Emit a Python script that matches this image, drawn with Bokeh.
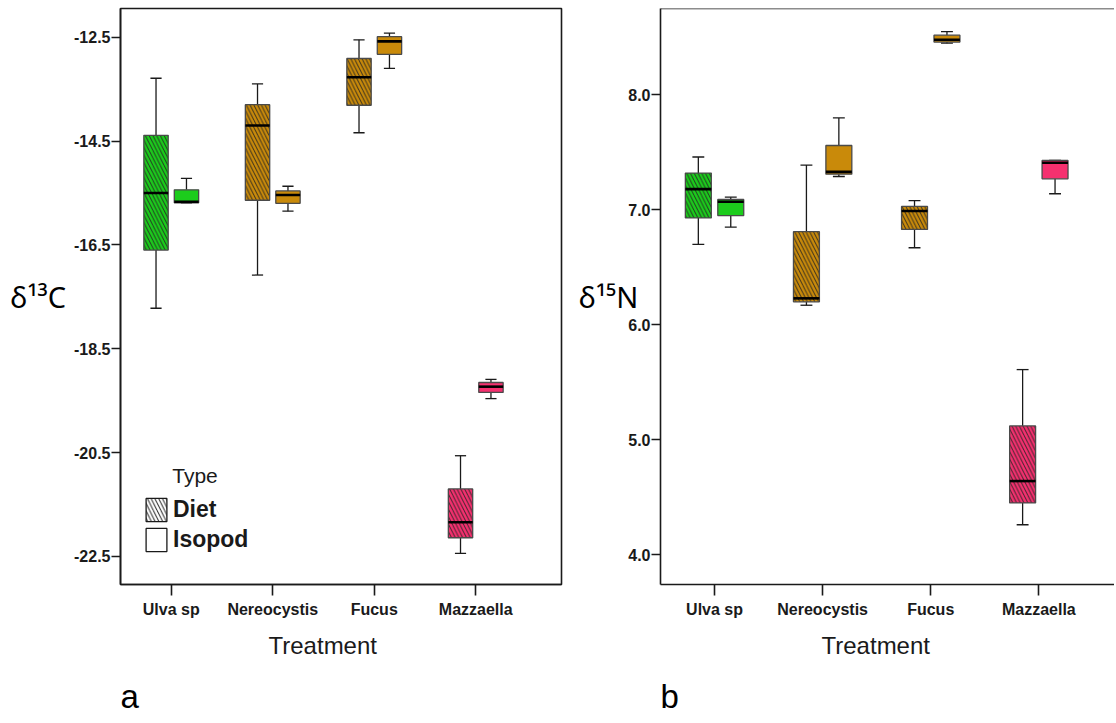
import numpy as np
from bokeh.plotting import figure
from bokeh.models import (FixedTicker, Label, Legend, LegendItem, Span, Range1d,
                          NumeralTickFormatter, Title)
from bokeh.layouts import row
from bokeh.embed import file_html
from bokeh.resources import INLINE

treatments = ["Ulva sp", "Nereocystis", "Fucus", "Mazzaella"]
box_colors = ["#1ccc1c", "#c98a0a", "#c98a0a", "#f5306f"]

# d13C boxplot stats: [min, q1, median, q3, max] per treatment
c13_diet_min = [-17.72, -17.08, -14.34, -22.44]
c13_diet_q1 = [-16.60, -15.64, -13.81, -22.14]
c13_diet_med = [-15.50, -14.20, -13.27, -21.84]
c13_diet_q3 = [-14.39, -13.80, -12.91, -21.20]
c13_diet_max = [-13.29, -13.40, -12.55, -20.56]

c13_iso_min = [-15.69, -15.85, -13.10, -19.46]
c13_iso_q1 = [-15.69, -15.70, -12.83, -19.34]
c13_iso_med = [-15.67, -15.54, -12.58, -19.23]
c13_iso_q3 = [-15.44, -15.46, -12.49, -19.15]
c13_iso_max = [-15.22, -15.37, -12.42, -19.09]

# d15N boxplot stats
n15_diet_min = [6.70, 6.17, 6.67, 4.26]
n15_diet_q1 = [6.93, 6.20, 6.83, 4.45]
n15_diet_med = [7.18, 6.23, 6.99, 4.64]
n15_diet_q3 = [7.32, 6.81, 7.03, 5.12]
n15_diet_max = [7.46, 7.39, 7.08, 5.61]

n15_iso_min = [6.85, 7.29, 8.45, 7.14]
n15_iso_q1 = [6.95, 7.31, 8.46, 7.27]
n15_iso_med = [7.07, 7.33, 8.48, 7.41]
n15_iso_q3 = [7.09, 7.56, 8.52, 7.43]
n15_iso_max = [7.11, 7.80, 8.55, 7.43]

c13_ticks = [-22.5, -20.5, -18.5, -16.5, -14.5, -12.5]
n15_ticks = [4.0, 5.0, 6.0, 7.0, 8.0]

TICK_FONT = "Liberation Sans"
DARK = "#1a1a1a"
BOX_LINE = "#4a4a4a"
OFF = 0.15
BW = 0.24
CAP = 0.055
H = 722


def add_boxes(p, pos, mn, q1, med, q3, mx, hatched):
    pos = np.asarray(pos, dtype=float)
    wl = dict(line_color=DARK, line_width=1.3)
    p.segment(x0=pos, y0=q3, x1=pos, y1=mx, **wl)
    p.segment(x0=pos, y0=q1, x1=pos, y1=mn, **wl)
    p.segment(x0=pos - CAP, y0=mx, x1=pos + CAP, y1=mx, **wl)
    p.segment(x0=pos - CAP, y0=mn, x1=pos + CAP, y1=mn, **wl)
    kw = dict(x=pos, width=BW, top=q3, bottom=q1, fill_color=box_colors,
              line_color=BOX_LINE, line_width=1.3)
    if hatched:
        kw.update(hatch_pattern="\\", hatch_color="#222222", hatch_weight=1.0,
                  hatch_scale=7.5, hatch_alpha=0.85)
    p.vbar(**kw)
    p.segment(x0=pos - BW / 2, y0=med, x1=pos + BW / 2, y1=med,
              line_color="black", line_width=2.6)


def make_panel(width, border_left, border_right, border_bottom, x_end, y_start, y_end,
               ticks, stats_diet, stats_iso, outline, ylabel, ylabel_standoff,
               title_offset, panel_letter):
    p = figure(width=width, height=H, output_backend="svg", toolbar_location=None,
               x_range=Range1d(0.5, x_end), y_range=Range1d(y_start, y_end),
               min_border_left=border_left, min_border_right=border_right,
               min_border_top=8, min_border_bottom=border_bottom)
    p.xgrid.visible = False
    p.ygrid.visible = False
    p.background_fill_color = "white"
    p.border_fill_color = "white"
    p.outline_line_color = DARK if outline else None
    p.outline_line_width = 1.6

    base = np.arange(1, len(treatments) + 1)
    p.xaxis.ticker = FixedTicker(ticks=list(base))
    p.xaxis.major_label_overrides = {int(b): t for b, t in zip(base, treatments)}
    p.xaxis.major_label_text_font = TICK_FONT
    p.xaxis.major_label_text_font_style = "bold"
    p.xaxis.major_label_text_font_size = "16px"
    p.xaxis.major_label_text_color = DARK
    p.xaxis.major_tick_out = 11
    p.xaxis.major_tick_in = 0
    p.xaxis.major_label_standoff = 5
    p.xaxis.minor_tick_line_color = None

    p.yaxis.ticker = FixedTicker(ticks=ticks)
    p.yaxis.formatter = NumeralTickFormatter(format="0.0")
    p.yaxis.major_label_text_font = TICK_FONT
    p.yaxis.major_label_text_font_style = "bold"
    p.yaxis.major_label_text_font_size = "16px"
    p.yaxis.major_label_text_color = DARK
    p.yaxis.major_tick_out = 9
    p.yaxis.major_tick_in = 0
    p.yaxis.major_label_standoff = 1
    p.yaxis.minor_tick_line_color = None
    p.yaxis.axis_label = ylabel
    p.yaxis.axis_label_orientation = "horizontal"
    p.yaxis.axis_label_text_font = "Noto Sans"
    p.yaxis.axis_label_text_font_style = "normal"
    p.yaxis.axis_label_text_font_size = "29px"
    p.yaxis.axis_label_text_color = "black"
    p.yaxis.axis_label_standoff = ylabel_standoff

    for ax in (p.xaxis, p.yaxis):
        ax.axis_line_color = DARK
        ax.axis_line_width = 1.6
        ax.major_tick_line_color = DARK
        ax.major_tick_line_width = 1.6

    add_boxes(p, base - OFF, *stats_diet, hatched=True)
    add_boxes(p, base + OFF, *stats_iso, hatched=False)

    if not outline:
        p.add_layout(Span(location=y_end, dimension="width", line_color=DARK,
                          line_width=1.6))

    p.add_layout(Title(text="Treatment", align="left", offset=title_offset,
                       text_font="Liberation Sans", text_font_style="normal",
                       text_font_size="24px", text_color=DARK, standoff=19), "below")
    p.add_layout(Title(text=panel_letter, align="left", offset=0,
                       text_font="Liberation Sans", text_font_style="normal",
                       text_font_size="33px", text_color="black", standoff=15), "below")
    return p, base


# ---- panel a ----
pa, base = make_panel(575, 120, 14, 138, 4.845, -23.04, -11.947, c13_ticks,
                      (c13_diet_min, c13_diet_q1, c13_diet_med, c13_diet_q3, c13_diet_max),
                      (c13_iso_min, c13_iso_q1, c13_iso_med, c13_iso_q3, c13_iso_max),
                      outline=True, ylabel="δ¹³C", ylabel_standoff=5,
                      title_offset=148, panel_letter="a")

pa.add_layout(Label(x=1.01, y=-21.17, text="Type", text_font="Liberation Sans",
                    text_font_size="21px", text_color=DARK))

r_diet = pa.vbar(x=[np.nan], top=[np.nan], bottom=[np.nan], width=BW,
                 fill_color="white", line_color=DARK, line_width=1.3,
                 hatch_pattern="\\", hatch_color="#222222", hatch_weight=1.0,
                 hatch_scale=7.5)
r_iso = pa.vbar(x=[np.nan], top=[np.nan], bottom=[np.nan], width=BW,
                fill_color="white", line_color=DARK, line_width=1.3)
legend = Legend(items=[LegendItem(label="Diet", renderers=[r_diet], index=0),
                       LegendItem(label="Isopod", renderers=[r_iso], index=0)],
                location=(23, 30), padding=0, spacing=1, glyph_width=26,
                glyph_height=29, label_standoff=4, label_height=29,
                label_text_font=TICK_FONT, label_text_font_style="bold",
                label_text_font_size="23px", label_text_color=DARK,
                border_line_color=None, background_fill_alpha=0)
pa.add_layout(legend)

# ---- panel b ----
pb, base_b = make_panel(539, 82, 0, 138, 4.70, 3.74, 8.752, n15_ticks,
                        (n15_diet_min, n15_diet_q1, n15_diet_med, n15_diet_q3, n15_diet_max),
                        (n15_iso_min, n15_iso_q1, n15_iso_med, n15_iso_q3, n15_iso_max),
                        outline=False, ylabel="δ¹⁵N", ylabel_standoff=-13,
                        title_offset=161, panel_letter="b")

layout = row(pa, pb)
open("out.html", "w").write(file_html(layout, INLINE))
